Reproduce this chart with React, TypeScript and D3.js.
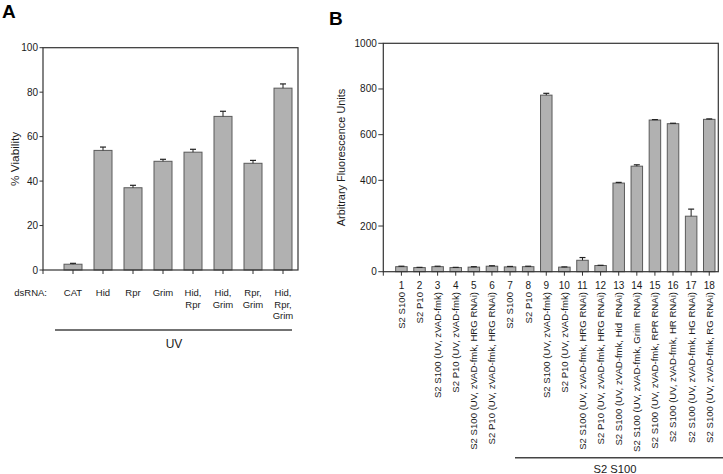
import React from "react";
import * as d3 from "d3";

// Panel A data
const labelsA = ["CAT", "Hid", "Rpr", "Grim", "Hid,\nRpr", "Hid,\nGrim", "Rpr,\nGrim", "Hid,\nRpr,\nGrim"];
const valuesA = [2.6, 53.8, 37.0, 48.9, 53.0, 69.1, 48.0, 81.8];
const errorsA = [0.4, 1.5, 1.1, 0.9, 1.3, 2.3, 1.3, 1.9];
const ticksA = [0, 20, 40, 60, 80, 100];

// Panel B data
const numbersB = ["1", "2", "3", "4", "5", "6", "7", "8", "9", "10", "11", "12", "13", "14", "15", "16", "17", "18"];
const labelsB = [
  "S2 S100",
  "S2 P10",
  "S2 S100 (UV, zVAD-fmk)",
  "S2 P10 (UV, zVAD-fmk)",
  "S2 S100 (UV, zVAD-fmk, HRG RNAi)",
  "S2 P10 (UV, zVAD-fmk, HRG RNAi)",
  "S2 S100",
  "S2 P10",
  "S2 S100 (UV, zVAD-fmk)",
  "S2 P10 (UV, zVAD-fmk)",
  "S2 S100 (UV, zVAD-fmk, HRG RNAi)",
  "S2 P10 (UV, zVAD-fmk, HRG RNAi)",
  "S2 S100 (UV, zVAD-fmk, Hid  RNAi)",
  "S2 S100 (UV, zVAD-fmk, Grim  RNAi)",
  "S2 S100 (UV, zVAD-fmk, RPR RNAi)",
  "S2 S100 (UV, zVAD-fmk, HR RNAi)",
  "S2 S100 (UV, zVAD-fmk, HG RNAi)",
  "S2 S100 (UV, zVAD-fmk, RG RNAi)",
];
const valuesB = [22, 18, 22, 18, 20, 24, 21, 22, 773, 20, 50, 27, 388, 462, 664, 648, 243, 667];
const errorsB = [2, 1, 2, 1, 2, 2, 2, 2, 8, 1, 12, 1, 3, 6, 2, 2, 31, 2];
const ticksB = [0, 200, 400, 600, 800, 1000];

const FONT = "'Liberation Sans', Arial, sans-serif";
const BAR_FILL = "#b1b1b1";
const BAR_STROKE = "#5a5a5a";
const AXIS = "#333";
const TEXT = "#1a1a1a";

function Panel(props: {
  values: number[];
  errors: number[];
  ticks: number[];
  x0: number; x1: number; y0: number; y1: number;
  yMax: number; barW: number; capW: number; tickLen: number;
}) {
  const { values, errors, ticks, x0, x1, y0, y1, yMax, barW, capW, tickLen } = props;
  const n = values.length;
  const x = d3.scaleLinear().domain([0, n + 0.5]).range([x0, x1]);
  const y = d3.scaleLinear().domain([0, yMax]).range([y1, y0]);
  return (
    <g>
      {values.map((v, i) => {
        const cx = x(i + 1);
        const top = y(v);
        const et = y(v + errors[i]);
        return (
          <g key={i}>
            <rect x={cx - barW / 2} y={top} width={barW} height={y(0) - top} fill={BAR_FILL} stroke={BAR_STROKE} strokeWidth={1} />
            <line x1={cx} x2={cx} y1={top} y2={et} stroke="#222" strokeWidth={1} />
            <line x1={cx - capW / 2} x2={cx + capW / 2} y1={et} y2={et} stroke="#222" strokeWidth={1.2} />
            <line x1={cx} x2={cx} y1={y1} y2={y1 + 4} stroke={AXIS} strokeWidth={1} />
          </g>
        );
      })}
      <rect x={x0} y={y0} width={x1 - x0} height={y1 - y0} fill="none" stroke={AXIS} strokeWidth={1.2} />
      <line x1={x0} x2={x0} y1={y1} y2={y1 + 4} stroke={AXIS} strokeWidth={1} />
      {ticks.map((t) => (
        <g key={t}>
          <line x1={x0 - tickLen} x2={x0} y1={y(t)} y2={y(t)} stroke={AXIS} strokeWidth={1} />
          <text x={x0 - tickLen - 1.5} y={y(t)} dy="0.35em" textAnchor="end" fontSize={10} fill={TEXT}>{t}</text>
        </g>
      ))}
    </g>
  );
}

export default function App() {
  // Panel A geometry
  const aX0 = 43, aX1 = 298, aY0 = 47.7, aY1 = 270;
  const xA = d3.scaleLinear().domain([0, labelsA.length + 0.5]).range([aX0, aX1]);
  // Panel B geometry
  const bX0 = 383.3, bX1 = 718.3, bY0 = 43.3, bY1 = 271.7;
  const xB = d3.scaleLinear().domain([0, labelsB.length + 0.5]).range([bX0, bX1]);

  return (
    <svg width={723} height={474} style={{ position: "absolute", left: 0, top: 0, background: "#fff" }} fontFamily={FONT}>
      <rect width={723} height={474} fill="#fff" />
      {/* Panel A */}
      <text x={2} y={18} fontSize={19} fontWeight="bold" fill="#000">A</text>
      <Panel values={valuesA} errors={errorsA} ticks={ticksA} x0={aX0} x1={aX1} y0={aY0} y1={aY1} yMax={100} barW={18} capW={6} tickLen={3.5} />
      <text transform={`translate(19,${(aY0 + aY1) / 2}) rotate(-90)`} textAnchor="middle" fontSize={11.8} fill={TEXT}>% Viability</text>
      <text x={47} y={296} textAnchor="end" fontSize={9.5} fill={TEXT}>dsRNA:</text>
      {labelsA.map((l, i) => (
        <text key={i} x={xA(i + 1)} y={296} textAnchor="middle" fontSize={9.5} fill={TEXT}>
          {l.split("\n").map((line, j) => (
            <tspan key={j} x={xA(i + 1)} dy={j === 0 ? 0 : 11.7}>{line}</tspan>
          ))}
        </text>
      ))}
      <line x1={55} x2={292} y1={330} y2={330} stroke="#444" strokeWidth={1.5} />
      <text x={174} y={347.5} textAnchor="middle" fontSize={12} fill={TEXT}>UV</text>

      {/* Panel B */}
      <text x={329} y={25} fontSize={19} fontWeight="bold" fill="#000">B</text>
      <Panel values={valuesB} errors={errorsB} ticks={ticksB} x0={bX0} x1={bX1} y0={bY0} y1={bY1} yMax={1000} barW={11.5} capW={6} tickLen={5} />
      <text transform={`translate(345,${(bY0 + bY1) / 2}) rotate(-90)`} textAnchor="middle" fontSize={10.9} fill={TEXT}>Arbitrary Fluorescence Units</text>
      {numbersB.map((nm, i) => (
        <text key={nm} x={xB(i + 1)} y={289} textAnchor="middle" fontSize={10} fill={TEXT}>{nm}</text>
      ))}
      {labelsB.map((l, i) => (
        <text key={i} transform={`translate(${xB(i + 1)},292) rotate(-90)`} dy="0.35em" textAnchor="end" fontSize={9.6} fill={TEXT} style={{ whiteSpace: "pre" }}>{l}</text>
      ))}
      <line x1={515} x2={723} y1={457.7} y2={457.7} stroke="#444" strokeWidth={1.5} />
      <text x={615} y={472.5} textAnchor="middle" fontSize={11.2} fill={TEXT}>S2 S100</text>
    </svg>
  );
}
